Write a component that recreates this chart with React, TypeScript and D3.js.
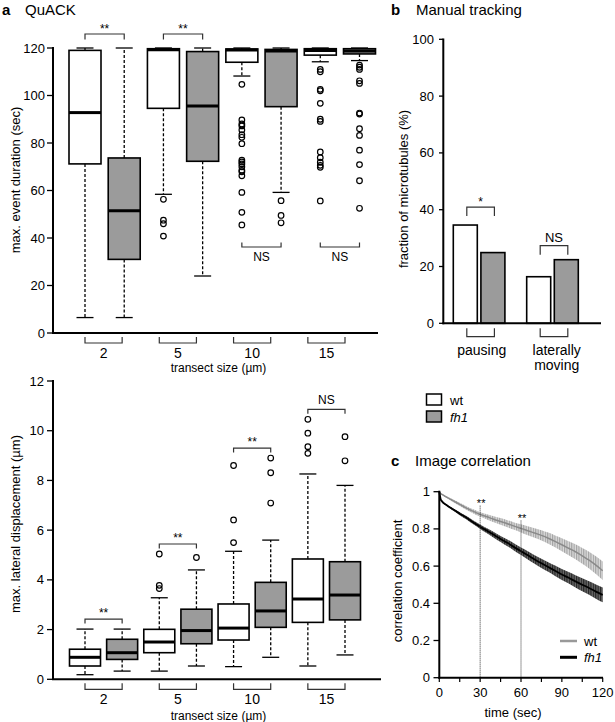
import React from "react";
import * as d3 from "d3";

// ---------- Panel a: QuACK ----------
const groups = ["2", "5", "10", "15"];

// max. event duration (sec)
const durWtMin = [6.5, 58.4, 108.2, 114.2];
const durWtQ1 = [71.2, 94.6, 114, 117];
const durWtMed = [92.8, 119.3, 119.2, 118.9];
const durWtQ3 = [119, 119.7, 119.6, 119.7];
const durWtMax = [120, 120, 120, 120];
const durWtOut = [
  [],
  [56.3, 47.5, 46, 40.8],
  [104.7, 89.7, 88, 87.2, 85.5, 83.5, 82.4, 79.7, 72.8, 72, 71.2, 70, 68.5, 67.9, 66.2, 59.2, 50.8, 45.5],
  [111, 110, 102.6, 102, 96.7, 90, 89.1, 76.2, 73.8, 71.9, 70.6, 69.8, 55.6],
];
const durFhMin = [6.5, 24, 59.2, 114.7];
const durFhQ1 = [31, 72.3, 95.3, 117.5];
const durFhMed = [51.5, 95.6, 118.7, 118.7];
const durFhQ3 = [73.7, 118.5, 119.4, 119.7];
const durFhMax = [120, 120, 120, 120];
const durFhOut = [
  [],
  [],
  [55.7, 49.5, 46.4],
  [112.8, 111.9, 111, 106.2, 105.1, 92.6, 92.2, 86, 83.2, 77, 70.9, 64.1, 52.5],
];
const durSig = ["**", "**", "NS", "NS"];
const durTicks = [0, 20, 40, 60, 80, 100, 120];

// max. lateral displacement (µm)
const latWtMin = [0.185, 0.33, 0.51, 0.535];
const latWtQ1 = [0.535, 1.07, 1.58, 2.29];
const latWtMed = [0.885, 1.5, 2.06, 3.23];
const latWtQ3 = [1.21, 2.01, 3.03, 4.84];
const latWtMax = [2.02, 3.28, 5.15, 8.26];
const latWtOut = [[], [5.04, 3.78, 3.65], [8.6, 6.41, 5.5], [10.46, 9.9, 9.36, 9.09]];
const latFhMin = [0.33, 0.535, 0.885, 0.98];
const latFhQ1 = [0.8, 1.43, 2.09, 2.39];
const latFhMed = [1.07, 1.96, 2.75, 3.39];
const latFhQ3 = [1.61, 2.82, 3.9, 4.73];
const latFhMax = [2.02, 4.4, 5.6, 7.8];
const latFhOut = [[], [4.9], [8.9, 8.31, 7.09], [9.76, 8.79]];
const latSig = ["**", "**", "**", "NS"];
const latTicks = [0, 2, 4, 6, 8, 10, 12];

// ---------- Panel b: Manual tracking ----------
const motions = ["pausing", "laterally moving"];
const fracWt = [34.6, 16.4];
const fracFh = [24.9, 22.4];
const fracSig = ["*", "NS"];
const fracTicks = [0, 20, 40, 60, 80, 100];

// ---------- Panel c: Image correlation ----------
const times = [0, 1, 2, 5, 10, 15, 20, 25, 30, 35, 40, 45, 50, 55, 60, 65, 70, 75, 80, 85, 90, 95, 100, 105, 110, 115, 120];
const corrWt = [1.0, 0.99, 0.985, 0.972, 0.952, 0.932, 0.912, 0.894, 0.878, 0.865, 0.852, 0.84, 0.828, 0.815, 0.803, 0.79, 0.778, 0.765, 0.75, 0.733, 0.715, 0.696, 0.677, 0.655, 0.632, 0.605, 0.575];
const errWt = [0, 0.002, 0.003, 0.005, 0.007, 0.009, 0.01, 0.011, 0.012, 0.014, 0.016, 0.018, 0.019, 0.02, 0.022, 0.024, 0.026, 0.028, 0.03, 0.032, 0.035, 0.037, 0.04, 0.042, 0.045, 0.048, 0.05];
const corrFh = [1.0, 0.96, 0.948, 0.93, 0.905, 0.882, 0.86, 0.835, 0.812, 0.79, 0.768, 0.746, 0.725, 0.702, 0.68, 0.658, 0.636, 0.615, 0.595, 0.575, 0.555, 0.537, 0.518, 0.5, 0.482, 0.463, 0.445];
const errFh = [0, 0.002, 0.003, 0.004, 0.006, 0.008, 0.009, 0.01, 0.012, 0.013, 0.015, 0.016, 0.018, 0.019, 0.02, 0.022, 0.023, 0.025, 0.026, 0.028, 0.03, 0.031, 0.033, 0.035, 0.036, 0.038, 0.04];
const corrTicks = [0, 0.2, 0.4, 0.6, 0.8, 1];
const timeTicks = [0, 30, 60, 90, 120];
const timeMinorTicks = [0, 15, 30, 45, 60, 75, 90, 105, 120];
const sigTimes = [30, 60];
const sigLevels = [0.925, 0.845];

const FONT = "'Liberation Sans', Arial, Helvetica, sans-serif";
const GREY = "#9b9b9b";

type BoxProps = {
  cx: number; w: number; y: d3.ScaleLinear<number, number>;
  min: number; q1: number; med: number; q3: number; max: number; out: number[]; fill: string;
};

function Box({ cx, w, y, min, q1, med, q3, max, out, fill }: BoxProps) {
  const cap = 8.5;
  return (
    <g>
      <line x1={cx} x2={cx} y1={y(q3)} y2={y(max)} stroke="#000" strokeWidth={1.3} strokeDasharray="3,2" />
      <line x1={cx} x2={cx} y1={y(q1)} y2={y(min)} stroke="#000" strokeWidth={1.3} strokeDasharray="3,2" />
      <line x1={cx - cap} x2={cx + cap} y1={y(max)} y2={y(max)} stroke="#000" strokeWidth={1.3} />
      <line x1={cx - cap} x2={cx + cap} y1={y(min)} y2={y(min)} stroke="#000" strokeWidth={1.3} />
      <rect x={cx - w / 2} y={y(q3)} width={w} height={y(q1) - y(q3)} fill={fill} stroke="#000" strokeWidth={1.6} />
      <line x1={cx - w / 2} x2={cx + w / 2} y1={y(med)} y2={y(med)} stroke="#000" strokeWidth={3} />
      {out.map((v, i) => (
        <circle key={i} cx={cx} cy={y(v)} r={2.8} fill="none" stroke="#000" strokeWidth={1.2} />
      ))}
    </g>
  );
}

// bracket: horizontal at yH, legs to yL
function Bracket({ x1, x2, yH, yL }: { x1: number; x2: number; yH: number; yL: number }) {
  return <path d={`M${x1},${yL}V${yH}H${x2}V${yL}`} fill="none" stroke="#333" strokeWidth={1.2} />;
}

export default function App() {
  // Panel a top
  const yDur = d3.scaleLinear().domain([0, 120]).range([333, 48]);
  const xDur = d3.scaleLinear().domain([0, 7]).range([85, 359.5]);
  // Panel a bottom
  const yLat = d3.scaleLinear().domain([0, 12]).range([679.3, 381]);
  const xLat = d3.scaleLinear().domain([0, 7]).range([85, 345]);
  // Panel b
  const yFrac = d3.scaleLinear().domain([0, 100]).range([323.3, 39.3]);
  const xFrac = d3.scaleLinear().domain([0, 3]).range([465.3, 566.3]);
  const xBarIdx = [0, 0.82, 2.18, 3];
  // Panel c
  const xT = d3.scaleLinear().domain([0, 120]).range([439.3, 602.7]);
  const yC = d3.scaleLinear().domain([0, 1]).range([677.7, 491.7]);

  const idx = times.map((_, i) => i);
  const areaGen = (c: number[], e: number[]) =>
    d3.area<number>().x((i) => xT(times[i])).y0((i) => yC(c[i] - e[i])).y1((i) => yC(c[i] + e[i])).curve(d3.curveMonotoneX)(idx) || "";
  const lineGen = (c: number[]) =>
    d3.line<number>().x((i) => xT(times[i])).y((i) => yC(c[i])).curve(d3.curveMonotoneX)(idx) || "";

  const renderBoxes = (
    x: d3.ScaleLinear<number, number>, y: d3.ScaleLinear<number, number>, w: number,
    wt: number[][], wtOut: number[][], fh: number[][], fhOut: number[][]
  ) =>
    groups.map((g, gi) => (
      <g key={g}>
        <Box cx={x(2 * gi)} w={w} y={y} min={wt[0][gi]} q1={wt[1][gi]} med={wt[2][gi]} q3={wt[3][gi]} max={wt[4][gi]} out={wtOut[gi]} fill="#fff" />
        <Box cx={x(2 * gi + 1)} w={w} y={y} min={fh[0][gi]} q1={fh[1][gi]} med={fh[2][gi]} q3={fh[3][gi]} max={fh[4][gi]} out={fhOut[gi]} fill={GREY} />
      </g>
    ));

  const groupAxis = (axisY: number, labelY: number, titleY: number) => (
    <g>
      {groups.map((g, gi) => (
        <g key={g}>
          <Bracket x1={xLat(2 * gi)} x2={xLat(2 * gi + 1)} yH={axisY + 10} yL={axisY + 4} />
          <text x={(xLat(2 * gi) + xLat(2 * gi + 1)) / 2} y={labelY} textAnchor="middle" fontSize={14}>{g}</text>
        </g>
      ))}
      <text x={218.5} y={titleY} textAnchor="middle" fontSize={12}>transect size (µm)</text>
    </g>
  );

  return (
    <svg width={615} height={722} style={{ position: "absolute", left: 0, top: 0, background: "#fff" }} fontFamily={FONT}>
      <defs>
        <pattern id="hatchWt" width={2.4} height={4} patternUnits="userSpaceOnUse">
          <rect width={2.4} height={4} fill="#dcdcdc" />
          <line x1={0.6} x2={0.6} y1={0} y2={4} stroke="#9a9a9a" strokeWidth={1} />
        </pattern>
        <pattern id="hatchFh" width={2.4} height={4} patternUnits="userSpaceOnUse">
          <rect width={2.4} height={4} fill="#6a6a6a" />
          <line x1={0.6} x2={0.6} y1={0} y2={4} stroke="#1a1a1a" strokeWidth={1} />
        </pattern>
      </defs>

      {/* ===== Panel a title ===== */}
      <text x={2} y={15} fontSize={15} fontWeight="bold">a</text>
      <text x={25} y={15} fontSize={15}>QuACK</text>

      {/* ===== Panel a top ===== */}
      <text transform={`translate(20,180) rotate(-90)`} textAnchor="middle" fontSize={13}>max. event duration (sec)</text>
      {durTicks.map((t) => (
        <g key={t}>
          <line x1={47} x2={53} y1={yDur(t)} y2={yDur(t)} stroke="#000" strokeWidth={1.3} />
          <text x={45} y={yDur(t)} dy="0.35em" textAnchor="end" fontSize={13}>{t}</text>
        </g>
      ))}
      {renderBoxes(
        xDur, yDur, 32,
        [durWtMin, durWtQ1, durWtMed, durWtQ3, durWtMax], durWtOut,
        [durFhMin, durFhQ1, durFhMed, durFhQ3, durFhMax], durFhOut
      )}
      {groups.map((g, gi) =>
        durSig[gi] === "**" ? (
          <g key={g}>
            <Bracket x1={xDur(2 * gi)} x2={xDur(2 * gi + 1)} yH={34} yL={39.5} />
            <text x={(xDur(2 * gi) + xDur(2 * gi + 1)) / 2} y={33} textAnchor="middle" fontSize={12}>{durSig[gi]}</text>
          </g>
        ) : (
          <g key={g}>
            <Bracket x1={xDur(2 * gi)} x2={xDur(2 * gi + 1)} yH={247} yL={242.5} />
            <text x={(xDur(2 * gi) + xDur(2 * gi + 1)) / 2} y={261} textAnchor="middle" fontSize={12}>{durSig[gi]}</text>
          </g>
        )
      )}
      <line x1={53} x2={53} y1={47} y2={334} stroke="#000" strokeWidth={2} />
      <line x1={52} x2={378} y1={333} y2={333} stroke="#000" strokeWidth={2} />
      {groupAxis(333, 358, 372)}

      {/* ===== Panel a bottom ===== */}
      <text transform={`translate(20,524) rotate(-90)`} textAnchor="middle" fontSize={13}>max. lateral displacement  (µm)</text>
      {latTicks.map((t) => (
        <g key={t}>
          <line x1={47} x2={53} y1={yLat(t)} y2={yLat(t)} stroke="#000" strokeWidth={1.3} />
          <text x={44} y={yLat(t)} dy="0.35em" textAnchor="end" fontSize={13}>{t}</text>
        </g>
      ))}
      {renderBoxes(
        xLat, yLat, 31,
        [latWtMin, latWtQ1, latWtMed, latWtQ3, latWtMax], latWtOut,
        [latFhMin, latFhQ1, latFhMed, latFhQ3, latFhMax], latFhOut
      )}
      {groups.map((g, gi) => {
        const top = Math.max(latWtMax[gi], latFhMax[gi], ...latWtOut[gi], ...latFhOut[gi]);
        const yH = yLat(top) - 10;
        return (
          <g key={g}>
            <Bracket x1={xLat(2 * gi)} x2={xLat(2 * gi + 1)} yH={yH} yL={yH + 4.5} />
            <text x={(xLat(2 * gi) + xLat(2 * gi + 1)) / 2} y={latSig[gi] === "NS" ? yH - 5 : yH - 2} textAnchor="middle" fontSize={12}>{latSig[gi]}</text>
          </g>
        );
      })}
      <line x1={53} x2={53} y1={380} y2={680} stroke="#000" strokeWidth={2} />
      <line x1={52} x2={381} y1={679.3} y2={679.3} stroke="#000" strokeWidth={2} />
      {groupAxis(679.3, 704, 719.5)}

      {/* ===== Panel b ===== */}
      <text x={391} y={15} fontSize={15} fontWeight="bold">b</text>
      <text x={416} y={15} fontSize={15}>Manual tracking</text>
      <text transform={`translate(408,189) rotate(-90)`} textAnchor="middle" fontSize={13}>fraction of microtubules (%)</text>
      {fracTicks.map((t) => (
        <g key={t}>
          <line x1={439} x2={443.3} y1={yFrac(t)} y2={yFrac(t)} stroke="#000" strokeWidth={1.3} />
          <text x={434} y={yFrac(t)} dy="0.35em" textAnchor="end" fontSize={13}>{t}</text>
        </g>
      ))}
      {motions.map((m, mi) => {
        const xw = xFrac(xBarIdx[2 * mi]);
        const xf = xFrac(xBarIdx[2 * mi + 1]);
        const bw = 24;
        const sigTop = Math.max(fracWt[mi], fracFh[mi]);
        const yH = yFrac(sigTop) - (mi === 0 ? 18 : 14);
        return (
          <g key={m}>
            <rect x={xw - bw / 2} y={yFrac(fracWt[mi])} width={bw} height={yFrac(0) - yFrac(fracWt[mi])} fill="#fff" stroke="#000" strokeWidth={1.6} />
            <rect x={xf - bw / 2} y={yFrac(fracFh[mi])} width={bw} height={yFrac(0) - yFrac(fracFh[mi])} fill={GREY} stroke="#000" strokeWidth={1.6} />
            <Bracket x1={xw + 1.5} x2={xf + 1.5} yH={yH} yL={yH + 9} />
            <text x={(xw + xf) / 2 + 1.5} y={fracSig[mi] === "*" ? yH - 1 : yH - 4} textAnchor="middle" fontSize={fracSig[mi] === "*" ? 12 : 13}>{fracSig[mi]}</text>
            <Bracket x1={xw + 1.5} x2={xf + 1.5} yH={336.7} yL={328.3} />
          </g>
        );
      })}
      <text x={481.7} y={355} textAnchor="middle" fontSize={14}>pausing</text>
      <text x={556.7} y={355} textAnchor="middle" fontSize={14}>laterally</text>
      <text x={556.7} y={369.5} textAnchor="middle" fontSize={14}>moving</text>
      <line x1={443.3} x2={443.3} y1={38.5} y2={324.3} stroke="#000" strokeWidth={2} />
      <line x1={442.3} x2={601} y1={323.3} y2={323.3} stroke="#000" strokeWidth={2} />

      {/* legend */}
      <rect x={426.5} y={394} width={15} height={11} fill="#fff" stroke="#000" strokeWidth={1.5} />
      <text x={450} y={404.5} fontSize={13}>wt</text>
      <rect x={426.5} y={411} width={15} height={11} fill={GREY} stroke="#000" strokeWidth={1.5} />
      <text x={450} y={421.5} fontSize={13} fontStyle="italic">fh1</text>

      {/* ===== Panel c ===== */}
      <text x={391} y={466} fontSize={15} fontWeight="bold">c</text>
      <text x={415} y={466} fontSize={15}>Image correlation</text>
      <text transform={`translate(402,581) rotate(-90)`} textAnchor="middle" fontSize={13}>correlation coefficient</text>
      {corrTicks.map((t) => (
        <g key={t}>
          <line x1={433.5} x2={439.3} y1={yC(t)} y2={yC(t)} stroke="#000" strokeWidth={1.3} />
          <text x={430} y={yC(t)} dy="0.35em" textAnchor="end" fontSize={13}>{t}</text>
        </g>
      ))}
      {timeMinorTicks.map((t) => (
        <line key={t} x1={xT(t)} x2={xT(t)} y1={677.7} y2={682} stroke="#000" strokeWidth={1.2} />
      ))}
      {timeTicks.map((t) => (
        <text key={t} x={xT(t)} y={697} textAnchor="middle" fontSize={13}>{t}</text>
      ))}
      <text x={513} y={716.5} textAnchor="middle" fontSize={13}>time (sec)</text>

      <path d={areaGen(corrWt, errWt)} fill="url(#hatchWt)" />
      <path d={lineGen(corrWt)} fill="none" stroke="#8a8a8a" strokeWidth={1.5} />
      <path d={areaGen(corrFh, errFh)} fill="url(#hatchFh)" />
      <path d={lineGen(corrFh)} fill="none" stroke="#000" strokeWidth={1.8} />

      {sigTimes.map((t, i) => (
        <g key={t}>
          <line x1={xT(t)} x2={xT(t)} y1={yC(sigLevels[i])} y2={677.7} stroke="#333" strokeWidth={1} strokeDasharray="1,1" />
          <text x={xT(t) + 1} y={yC(sigLevels[i]) + 1} textAnchor="middle" fontSize={11} fill="#000">**</text>
        </g>
      ))}

      <line x1={439.3} x2={439.3} y1={490.7} y2={678.7} stroke="#000" strokeWidth={2} />
      <line x1={438.3} x2={603} y1={677.7} y2={677.7} stroke="#000" strokeWidth={2} />

      <line x1={560} x2={577} y1={641} y2={641} stroke="#999" strokeWidth={2.5} />
      <text x={584} y={645.5} fontSize={13}>wt</text>
      <line x1={560} x2={577} y1={657.3} y2={657.3} stroke="#000" strokeWidth={3} />
      <text x={584} y={662} fontSize={13} fontStyle="italic">fh1</text>
    </svg>
  );
}
